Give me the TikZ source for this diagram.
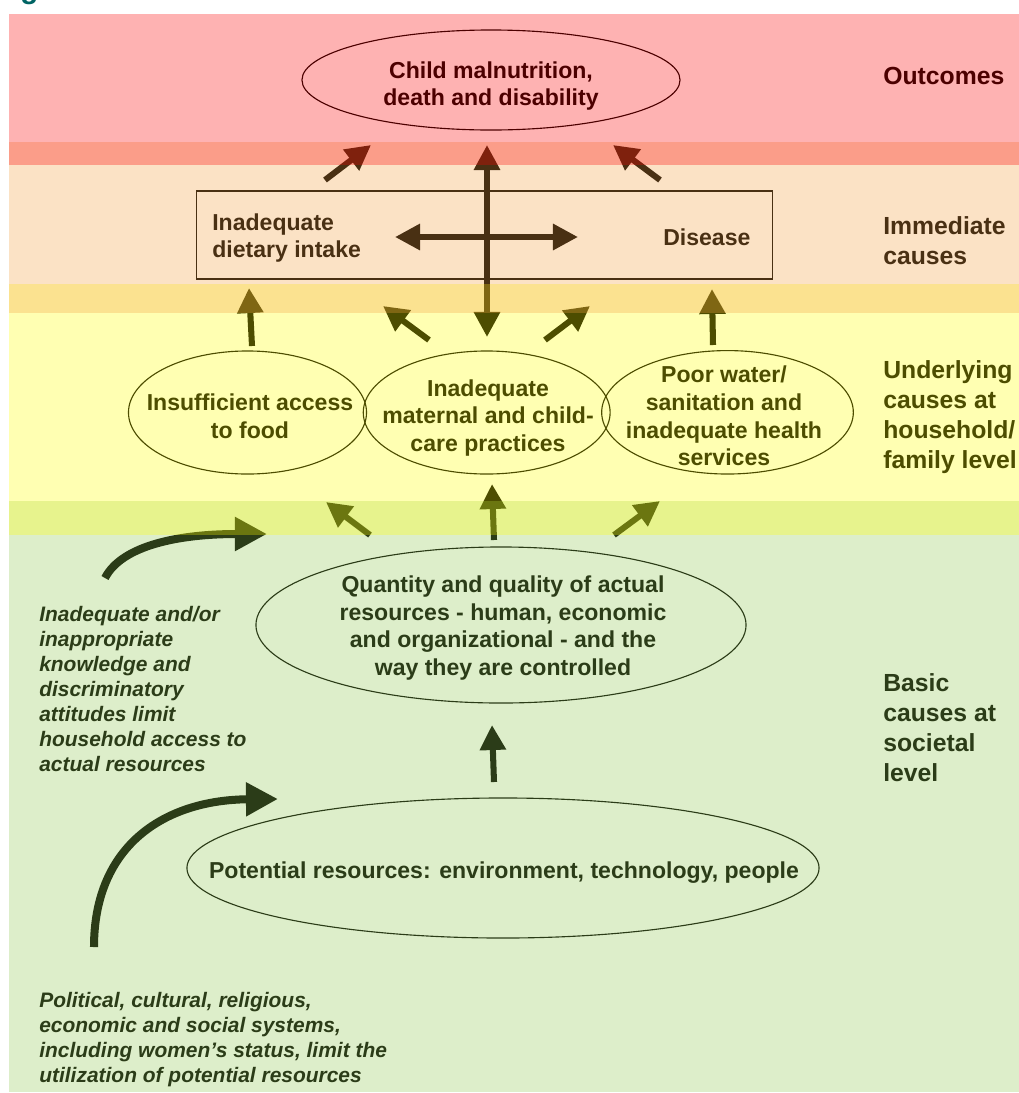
\documentclass[tikz,border=0pt]{standalone}
\usepackage{fontspec}
\setmainfont{Liberation Sans}
\usetikzlibrary{arrows.meta,shapes.geometric}
\definecolor{ovred}{RGB}{252,0,0}
\definecolor{ovorange}{RGB}{245,160,66}
\definecolor{ovyellow}{RGB}{255,255,0}
\definecolor{ovgreen}{RGB}{145,200,80}
\definecolor{headteal}{RGB}{0,100,100}
\begin{document}
\begin{tikzpicture}[x=0.025cm,y=-0.025cm,
  body/.style={font=\fontsize{16.4pt}{19.6pt}\selectfont\bfseries, align=center, inner sep=0pt},
  side/.style={font=\fontsize{17.6pt}{21.3pt}\selectfont\bfseries, align=left, anchor=west, inner sep=0pt},
  note/.style={font=\fontsize{14.9pt}{17.8pt}\selectfont\bfseries\itshape, align=left, anchor=west, inner sep=0pt},
  oval/.style={ellipse, draw, line width=0.8pt, inner sep=0pt},
  arr/.style={line width=4.3pt, -{Triangle[length=17.8pt,width=17.8pt]}},
  darr/.style={line width=4.3pt, {Triangle[length=17.8pt,width=17.8pt]}-{Triangle[length=17.8pt,width=17.8pt]}},
  carr/.style={line width=5.7pt, -{Triangle[length=22.8pt,width=22.8pt]}},
  band/.style={fill opacity=0.3}
]
\useasboundingbox (0,0) rectangle (1019,1093);
\fill[white] (0,0) rectangle (1019,1093);

% ---------- Outcomes ----------
\node[oval, minimum width=9.45cm, minimum height=2.5cm] (out) at (491,80) {};
\node[body] (outt) at (491,86) {Child malnutrition,\\death and disability};
\node[side] (lab1) at (883,76) {Outcomes};

% ---------- Immediate causes ----------
\node[draw, line width=0.8pt, minimum width=14.375cm, minimum height=2.2cm, inner sep=0pt] (imm) at (484.5,235) {};
\node[body, anchor=west, align=left] (diet) at (212,238) {Inadequate\\dietary intake};
\node[body, anchor=west] (dis) at (663,237) {Disease};
\node[side] (lab2) at (883,241) {Immediate\\causes};

% ---------- Underlying causes ----------
\node[oval, minimum width=5.95cm, minimum height=3.075cm] (food) at (247.5,412.5) {};
\node[body] (foodt) at (250,416) {Insufficient access\\to food};
\node[oval, minimum width=6.17cm, minimum height=3.075cm] (care) at (486.7,412.5) {};
\node[body] (caret) at (488,418) {Inadequate\\maternal and child-\\care practices};
\node[oval, minimum width=6.29cm, minimum height=3.085cm] (water) at (727.5,412.3) {};
\node[body] (watert) at (724,416) {Poor water/\\sanitation and\\inadequate health\\services};
\node[side] (lab3) at (883,417) {Underlying\\causes at\\household/\\family level};

% ---------- Basic causes ----------
\node[oval, minimum width=12.25cm, minimum height=3.9cm] (actual) at (501,625) {};
\node[body] (actualt) at (503,628) {Quantity and quality of actual\\resources - human, economic\\and organizational - and the\\way they are controlled};
\node[oval, minimum width=15.8cm, minimum height=3.5cm] (pot) at (503,868) {};
\node[body] (pott) at (504,873) {Potential resources: environment, technology, people};
\node[side] (lab4) at (883,728) {Basic\\causes at\\societal\\level};

\node[note] (know) at (39,689) {Inadequate and/or\\inappropriate\\knowledge and\\discriminatory\\attitudes limit\\household access to\\actual resources};
\node[note] (pol) at (39,1040) {Political, cultural, religious,\\economic and social systems,\\including women’s status, limit the\\utilization of potential resources};

% ---------- arrows ----------
\coordinate (t1s) at (325,180); \coordinate (t1e) at (371,145);
\coordinate (t2s) at (660,180); \coordinate (t2e) at (613,145);
\coordinate (vt) at (487,145);  \coordinate (vb) at (487,337);
\coordinate (hl) at (395,237);  \coordinate (hr) at (578,237);
\draw[arr] (t1s) -- (t1e);
\draw[arr] (t2s) -- (t2e);
\draw[darr] (vb) -- (vt);
\draw[darr] (hl) -- (hr);

\coordinate (m1s) at (252,346); \coordinate (m1e) at (249,288);
\coordinate (m2s) at (429,340); \coordinate (m2e) at (383,306);
\coordinate (m3s) at (545,340); \coordinate (m3e) at (590,306);
\coordinate (m4s) at (713,345); \coordinate (m4e) at (712,289);
\draw[arr] (m1s) -- (m1e);
\draw[arr] (m2s) -- (m2e);
\draw[arr] (m3s) -- (m3e);
\draw[arr] (m4s) -- (m4e);

\coordinate (g1s) at (370,535); \coordinate (g1e) at (326,502);
\coordinate (g2s) at (494,540); \coordinate (g2e) at (492,484);
\coordinate (g3s) at (614,535); \coordinate (g3e) at (660,501);
\coordinate (g4s) at (494,782); \coordinate (g4e) at (492,725);
\draw[arr] (g1s) -- (g1e);
\draw[arr] (g2s) -- (g2e);
\draw[arr] (g3s) -- (g3e);
\draw[arr] (g4s) -- (g4e);

\coordinate (c1s) at (105,578); \coordinate (c1e) at (267,534);
\coordinate (c2s) at (94,947);  \coordinate (c2e) at (278,799);
\draw[carr] (c1s) .. controls (122,545) and (180,534) .. (c1e);
\draw[carr] (c2s) .. controls (94,845) and (165,800) .. (c2e);

% ---------- coloured bands (translucent, on top) ----------
\fill[ovgreen, band] (9,501) rectangle (1019,1092);
\fill[ovyellow, band] (9,284) rectangle (1019,535);
\fill[ovorange, band] (9,142) rectangle (1019,313);
\fill[ovred, band] (9,14) rectangle (1019,165);

% cut-off heading fragment
\begin{scope}
\clip (0,0) rectangle (80,6);
\node[anchor=base west, inner sep=0pt, text=headteal, font=\fontsize{21pt}{24pt}\selectfont\bfseries] (head) at (20,-2) {g};
\end{scope}
\end{tikzpicture}
\end{document}
